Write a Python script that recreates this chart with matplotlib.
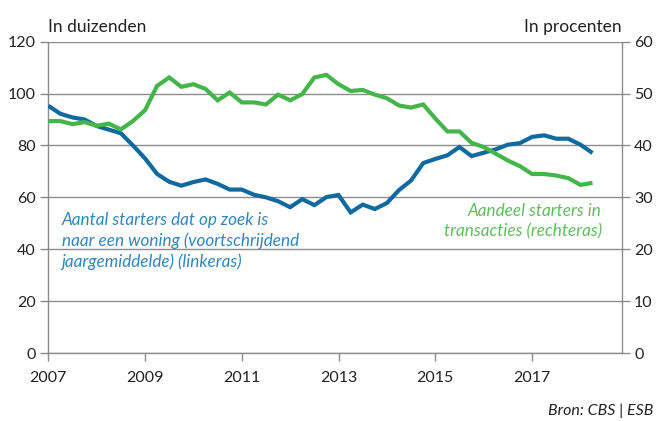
import numpy as np
import matplotlib
matplotlib.use("Agg")
import matplotlib.pyplot as plt

plt.rcParams['font.family'] = ['Lato', 'DejaVu Sans']

# Kwartaalcijfers 2007K1 t/m 2018K2
start_year = 2007
n_quarters = 46

# Aantal starters op zoek naar een woning (x 1000, linkeras)
zoekend = [95.3, 92.2, 90.8, 90.0, 87.5, 86.1, 84.7, 80.0, 75.0, 69.0,
           66.0, 64.5, 65.9, 66.9, 65.2, 63.0, 63.0, 61.0, 60.0, 58.5,
           56.2, 59.3, 57.0, 60.1, 60.9, 54.2, 57.2, 55.5, 57.8, 62.8,
           66.5, 73.2, 74.8, 76.2, 79.4, 75.9, 77.2, 78.5, 80.3, 80.9,
           83.3, 83.9, 82.6, 82.6, 80.3, 77.1]

# Aandeel starters in transacties (%, rechteras)
aandeel = [44.7, 44.7, 44.1, 44.5, 43.8, 44.2, 43.1, 44.7, 46.8, 51.5,
           53.1, 51.3, 51.8, 50.9, 48.7, 50.2, 48.3, 48.3, 47.9, 49.8,
           48.7, 49.9, 53.1, 53.6, 51.8, 50.5, 50.7, 49.8, 49.1, 47.7,
           47.3, 47.9, 45.2, 42.7, 42.7, 40.5, 39.7, 38.4, 37.1, 36.0,
           34.5, 34.5, 34.2, 33.7, 32.4, 32.8]

year_ticks = [2007, 2009, 2011, 2013, 2015, 2017]
left_ticks = [0, 20, 40, 60, 80, 100, 120]
right_ticks = [0, 10, 20, 30, 40, 50, 60]

x = start_year + np.arange(n_quarters) / 4

BLUE = '#116A9F'
GREEN = '#44B549'
GRID = '#8C8C8C'

fig = plt.figure(figsize=(6.57, 4.21), dpi=100)
ax = fig.add_axes([0.0735, 0.1615, 0.8725, 0.7395])
ax2 = ax.twinx()

for a in (ax, ax2):
    for s in a.spines.values():
        s.set_visible(False)

ax.set_xlim(2007, 2018.85)
ax.set_ylim(0, 120)
ax2.set_ylim(0, 60)

ax.set_yticks(left_ticks)
ax2.set_yticks(right_ticks)
ax.set_xticks(year_ticks)
ax.set_xticklabels([str(y) for y in year_ticks])

ax.grid(axis='y', color=GRID, linewidth=1.0)
ax.set_axisbelow(True)
ax.spines['left'].set_visible(True)
ax.spines['bottom'].set_visible(True)
ax2.spines['right'].set_visible(True)
for sp in (ax.spines['left'], ax.spines['bottom'], ax2.spines['right']):
    sp.set_color(GRID)
    sp.set_linewidth(1.0)

ax.tick_params(axis='y', length=6, width=1.0, color=GRID, labelsize=11.5,
               pad=3, labelcolor='#222222')
ax2.tick_params(axis='y', length=6, width=1.0, color=GRID, labelsize=11.5,
                pad=3, labelcolor='#222222')
ax.tick_params(axis='x', length=6, width=1.0, color=GRID, labelsize=11.5,
               pad=7, labelcolor='#222222')

ax.plot(x, zoekend, color=BLUE, linewidth=3.0, solid_joinstyle='miter',
        solid_capstyle='butt', zorder=3)
ax2.plot(x, aandeel, color=GREEN, linewidth=3.0, solid_joinstyle='miter',
         solid_capstyle='butt', zorder=3)

fig.text(0.0735, 0.925, 'In duizenden', fontsize=12.5, color='#222222',
         ha='left', va='baseline')
fig.text(0.946, 0.925, 'In procenten', fontsize=12.5, color='#222222',
         ha='right', va='baseline')

ax.text(2007.28, 54.2, 'Aantal starters dat op zoek is\nnaar een woning (voortschrijdend\njaargemiddelde) (linkeras)',
        color='#2F86BC', fontsize=12.3, style='italic', ha='left', va='top',
        linespacing=1.33)
ax2.text(2018.44, 29.0, 'Aandeel starters in\ntransacties (rechteras)',
         color='#5DBE5C', fontsize=12.3, style='italic', ha='right', va='top',
         linespacing=1.33)

fig.text(0.995, 0.014, 'Bron: CBS | ESB', fontsize=11.5, style='italic',
         color='#222222', ha='right', va='baseline')

fig.savefig('out.png', dpi=100, facecolor='white')
